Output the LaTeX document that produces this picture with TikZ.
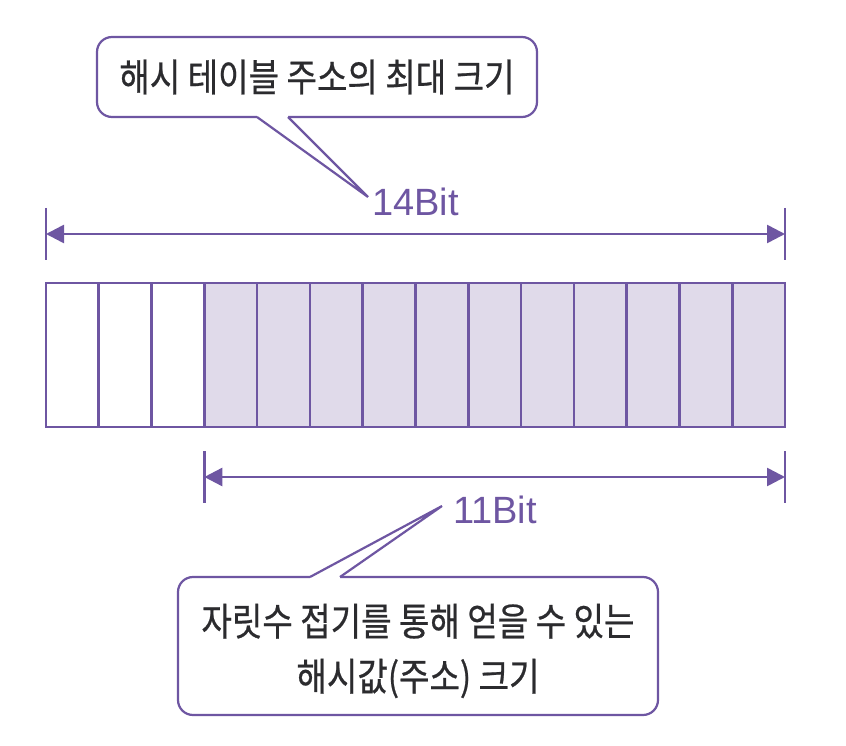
\documentclass[tikz,border=0pt]{standalone}
\usepackage{fontspec}
\usetikzlibrary{arrows.meta}
\newfontfamily\krfont[FakeStretch=0.86,FakeBold=0.6]{Noto Sans CJK KR}
\newfontfamily\latfont{Liberation Sans}
\definecolor{pline}{HTML}{6E56A2}
\definecolor{pfill}{HTML}{E0DAEA}
\definecolor{ptext}{HTML}{2B2B2E}
\tikzset{
  cellline/.style={draw=pline, line width=2.6pt},
  dimline/.style={draw=pline, line width=2.6pt, {Triangle[length=18pt,width=18pt]}-{Triangle[length=18pt,width=18pt]}},
  tickline/.style={draw=pline, line width=2.6pt},
  callout/.style={draw=pline, line width=2.2pt, fill=white, rounded corners=15pt, inner sep=0pt},
  calltext/.style={inner sep=0pt, text=ptext, align=center, font=\krfont\fontsize{38.5}{55}\selectfont},
  bitlabel/.style={text=pline, inner sep=0pt, anchor=base west, font=\latfont\fontsize{38}{40}\selectfont},
}
\begin{document}
\begin{tikzpicture}[x=1pt,y=-1pt]
\useasboundingbox (0,0) rectangle (846,746);
% register cells
\fill[pfill] (204.3,283) rectangle (785,427);
\foreach \i in {0,...,13}{
  \draw[cellline] ({46+\i*52.786},283) rectangle ({46+(\i+1)*52.786},427);
}
% 14 bit dimension
\coordinate (t1a) at (46,208); \coordinate (t1b) at (46,260);
\coordinate (t2a) at (785,208); \coordinate (t2b) at (785,260);
\draw[tickline] (t1a) -- (t1b);
\draw[tickline] (t2a) -- (t2b);
\coordinate (d1l) at (46,234); \coordinate (d1r) at (785,234);
\draw[dimline] (d1l) -- (d1r);
% 11 bit dimension
\coordinate (t3a) at (204.3,451); \coordinate (t3b) at (204.3,503);
\coordinate (t4a) at (785,451); \coordinate (t4b) at (785,503);
\draw[tickline] (t3a) -- (t3b);
\draw[tickline] (t4a) -- (t4b);
\coordinate (d2l) at (204.3,477); \coordinate (d2r) at (785,477);
\draw[dimline] (d2l) -- (d2r);
% labels
\node[bitlabel] (l14) at (372,215) {14Bit};
\node[bitlabel] (l11) at (453,523) {11Bit};
% top callout
\node[callout, minimum width=440pt, minimum height=80pt] (c1) at (317,77) {};
\node[calltext] (c1t) at (c1.center) {해시 테이블 주소의 최대 크기};
\coordinate (p1a) at (257,117); \coordinate (p1b) at (288,117); \coordinate (p1t) at (368,197);
\fill[white] (257,114) -- (p1a) -- (p1t) -- (p1b) -- (288,114) -- cycle;
\draw[pline, line width=2.2pt, line join=miter] (p1a) -- (p1t) -- (p1b);
% bottom callout
\node[callout, minimum width=480pt, minimum height=138pt] (c2) at (418,646) {};
\node[calltext] (c2t) at (418,651) {자릿수 접기를 통해 얻을 수 있는\\해시값(주소) 크기};
\coordinate (p2a) at (310,577); \coordinate (p2b) at (340,577); \coordinate (p2t) at (442,506);
\fill[white] (310,580) -- (p2a) -- (p2t) -- (p2b) -- (340,580) -- cycle;
\draw[pline, line width=2.2pt, line join=miter] (p2a) -- (p2t) -- (p2b);
\end{tikzpicture}
\end{document}
